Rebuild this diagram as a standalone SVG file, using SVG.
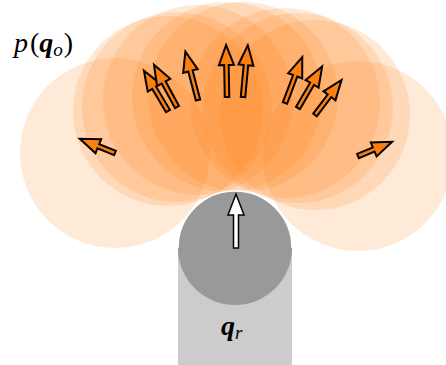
<svg xmlns="http://www.w3.org/2000/svg" width="446" height="365" viewBox="0 0 446 365">
<style>
.blob{fill:#ff7f0e;fill-opacity:0.16;stroke:none}
.arr{fill:#ff7f0e;stroke:#000;stroke-width:2;stroke-linejoin:miter}
.lbl{font-family:"Liberation Serif","DejaVu Serif",serif;font-size:28px;fill:#000}
</style>
<rect width="446" height="365" fill="#fff"/>
<g id="distribution">
<circle class="blob" cx="115" cy="153" r="95"/>
<circle class="blob" cx="168" cy="111" r="95"/>
<circle class="blob" cx="177" cy="107" r="95"/>
<circle class="blob" cx="198" cy="100" r="95"/>
<circle class="blob" cx="227" cy="97" r="95"/>
<circle class="blob" cx="243" cy="97" r="95"/>
<circle class="blob" cx="285" cy="103" r="95"/>
<circle class="blob" cx="298" cy="108" r="95"/>
<circle class="blob" cx="315" cy="115" r="95"/>
<circle class="blob" cx="358" cy="156" r="95"/>
</g>
<g id="robot">
<rect x="178" y="248" width="114" height="117" fill="#cccccc"/>
<circle cx="235" cy="248" r="57" fill="#999999"/>
<path d="M178,248 A57,57 0 0 1 292,248" fill="none" stroke="#fff" stroke-width="1.5"/>
<path d="M233.5,248 L233.5,215 L228,215 L236,194 L244,215 L238.5,215 L238.5,248 Z" fill="#fff" stroke="#000" stroke-width="1.5"/>
<text class="lbl" x="221" y="335"><tspan font-weight="bold" font-style="italic">q</tspan><tspan font-style="italic" font-size="19" dy="4">r</tspan></text>
</g>
<g id="samples">
<path class="arr" transform="translate(168,111) rotate(-120.8)" d="M0,-2.25 L27,-2.25 L27,-7.5 L47,0 L27,7.5 L27,2.25 L0,2.25 Z"/>
<path class="arr" transform="translate(177,107) rotate(-118.6)" d="M0,-2.25 L28,-2.25 L28,-7.5 L48,0 L28,7.5 L28,2.25 L0,2.25 Z"/>
<path class="arr" transform="translate(198,100) rotate(-104.6)" d="M0,-2.25 L30,-2.25 L30,-7.5 L50,0 L30,7.5 L30,2.25 L0,2.25 Z"/>
<path class="arr" transform="translate(227,97) rotate(-91)" d="M0,-2.25 L32,-2.25 L32,-7.5 L52,0 L32,7.5 L32,2.25 L0,2.25 Z"/>
<path class="arr" transform="translate(243,97) rotate(-84.7)" d="M0,-2.25 L32,-2.25 L32,-7.5 L52,0 L32,7.5 L32,2.25 L0,2.25 Z"/>
<path class="arr" transform="translate(285,103) rotate(-69.4)" d="M0,-2.25 L29,-2.25 L29,-7.5 L49,0 L29,7.5 L29,2.25 L0,2.25 Z"/>
<path class="arr" transform="translate(298,108) rotate(-59.8)" d="M0,-2.25 L28,-2.25 L28,-7.5 L48,0 L28,7.5 L28,2.25 L0,2.25 Z"/>
<path class="arr" transform="translate(315,115) rotate(-52.9)" d="M0,-2.25 L24,-2.25 L24,-7.5 L44,0 L24,7.5 L24,2.25 L0,2.25 Z"/>
<path class="arr" transform="translate(115,153) rotate(-157.9)" d="M0,-2.25 L18,-2.25 L18,-7.5 L38,0 L18,7.5 L18,2.25 L0,2.25 Z"/>
<path class="arr" transform="translate(358,156) rotate(-22.6)" d="M0,-2.25 L17,-2.25 L17,-7.5 L37,0 L17,7.5 L17,2.25 L0,2.25 Z"/>
</g>
<text id="title" class="lbl" x="14" y="52"><tspan font-style="italic">p</tspan><tspan dx="2">(</tspan><tspan font-weight="bold" font-style="italic">q</tspan><tspan font-style="italic" font-size="19" dy="4">o</tspan><tspan dy="-4" dx="1">)</tspan></text>
</svg>
